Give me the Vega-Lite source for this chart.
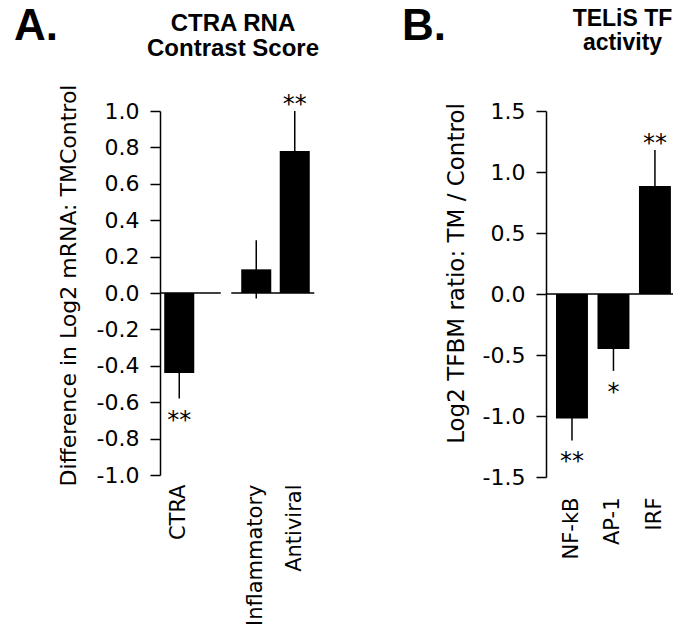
{
  "$schema": "https://vega.github.io/schema/vega-lite/v6.json",
  "padding": {"left": 14, "top": 5, "right": 0, "bottom": 0},
  "config": {
    "view": {"stroke": null},
    "font": "DejaVu Sans",
    "axis": {"grid": false, "labelColor": "black", "titleColor": "black", "domainColor": "black", "tickColor": "black", "domainWidth": 1.5, "tickWidth": 1.5, "labelFont": "DejaVu Sans", "titleFont": "DejaVu Sans", "titleFontWeight": "normal", "labelOverlap": false, "labelBound": false, "labelFlush": false}
  },
  "spacing": 82,
  "hconcat": [
    {
      "title": {"text": "A.", "anchor": "start", "font": "Liberation Sans", "fontSize": 44, "fontWeight": "bold", "color": "black", "dx": -43, "dy": 37, "offset": 0},
      "vconcat": [
        {
          "width": 154,
          "height": 364,
          "title": {"text": ["CTRA RNA", "Contrast Score"], "font": "Liberation Sans", "fontSize": 24, "fontWeight": "bold", "lineHeight": 25, "anchor": "middle", "dx": -4, "offset": 23, "color": "black"},
          "data": {"values": [
            {"measure": "CTRA", "value": -0.44, "lo": -0.58, "hi": -0.30, "sig": "**"},
            {"measure": "Inflammatory", "value": 0.13, "lo": -0.03, "hi": 0.29, "sig": ""},
            {"measure": "Antiviral", "value": 0.78, "lo": 0.56, "hi": 1.0, "sig": "**"}
          ]},
          "layer": [
            {
              "mark": {"type": "bar", "color": "black"},
              "encoding": {
                "x": {"field": "measure", "type": "nominal", "sort": null,
                  "scale": {"domain": ["CTRA", " ", "Inflammatory", "Antiviral"], "paddingInner": 0.22, "paddingOuter": 0.11},
                  "axis": {"title": null, "labelAngle": 270, "labelAlign": "right", "labelBaseline": "middle", "ticks": false, "domain": false, "labelPadding": 9, "labelFontSize": 21}},
                "y": {"field": "value", "type": "quantitative",
                  "scale": {"domain": [-1, 1], "nice": false, "zero": false},
                  "axis": {"values": [-1, -0.8, -0.6, -0.4, -0.2, 0, 0.2, 0.4, 0.6, 0.8, 1],
                    "tickCount": 20,
                    "labelOverlap": false,
                    "labelExpr": "replace(format(datum.value, '.1f'), '\u2212', '-')",
                    "title": "Difference in Log2 mRNA: TMControl", "titleY": 174, "titleFontSize": 22, "titlePadding": 16,
                    "labelFontSize": 22, "tickSize": 10, "labelPadding": 11}}
              }
            },
            {
              "mark": {"type": "rule", "color": "black", "strokeWidth": 1.5},
              "encoding": {
                "x": {"field": "measure", "type": "nominal"},
                "y": {"field": "lo", "type": "quantitative"},
                "y2": {"field": "hi"}
              }
            },
            {
              "data": {"values": [{}]},
              "mark": {"type": "rule", "color": "black", "strokeWidth": 1.5},
              "encoding": {
                "x": {"datum": "CTRA", "bandPosition": -0.14},
                "x2": {"datum": " ", "bandPosition": 0.6},
                "y": {"datum": 0}
              }
            },
            {
              "data": {"values": [{}]},
              "mark": {"type": "rule", "color": "black", "strokeWidth": 1.5},
              "encoding": {
                "x": {"datum": " ", "bandPosition": 0.95},
                "x2": {"datum": "Antiviral", "bandPosition": 1.15},
                "y": {"datum": 0}
              }
            },
            {
              "transform": [{"filter": "datum.value > 0 && datum.sig != ''"}],
              "mark": {"type": "text", "baseline": "middle", "dy": -6, "fontSize": 24, "font": "DejaVu Sans", "color": "black"},
              "encoding": {
                "x": {"field": "measure", "type": "nominal"},
                "y": {"field": "hi", "type": "quantitative"},
                "text": {"field": "sig"}
              }
            },
            {
              "transform": [{"filter": "datum.value < 0 && datum.sig != ''"}],
              "mark": {"type": "text", "baseline": "middle", "dy": 22, "fontSize": 24, "font": "DejaVu Sans", "color": "black"},
              "encoding": {
                "x": {"field": "measure", "type": "nominal"},
                "y": {"field": "lo", "type": "quantitative"},
                "text": {"field": "sig"}
              }
            }
          ]
        }
      ]
    },
    {
      "title": {"text": "B.", "anchor": "start", "font": "Liberation Sans", "fontSize": 44, "fontWeight": "bold", "color": "black", "dx": -43, "dy": 41, "offset": 0},
      "vconcat": [
        {
          "width": 129,
          "height": 366,
          "title": {"text": ["TELiS TF", "activity"], "font": "Liberation Sans", "fontSize": 23, "fontWeight": "bold", "lineHeight": 24, "anchor": "middle", "dx": 12, "offset": 45, "color": "black"},
          "data": {"values": [
            {"factor": "NF-kB", "value": -1.02, "lo": -1.2, "hi": -0.84, "sig": "**"},
            {"factor": "AP-1", "value": -0.45, "lo": -0.63, "hi": -0.27, "sig": "*"},
            {"factor": "IRF", "value": 0.885, "lo": 0.59, "hi": 1.18, "sig": "**"}
          ]},
          "layer": [
            {
              "mark": {"type": "bar", "color": "black"},
              "encoding": {
                "x": {"field": "factor", "type": "nominal", "sort": null,
                  "scale": {"domain": ["NF-kB", "AP-1", "IRF"], "paddingInner": 0.23, "paddingOuter": 0.17, "align": 0.71},
                  "axis": {"title": null, "labelAngle": 270, "labelAlign": "right", "labelBaseline": "middle", "ticks": false, "domain": false, "labelPadding": 20, "labelFontSize": 21}},
                "y": {"field": "value", "type": "quantitative",
                  "scale": {"domain": [-1.5, 1.5], "nice": false, "zero": false},
                  "axis": {"values": [-1.5, -1, -0.5, 0, 0.5, 1, 1.5],
                    "tickCount": 20,
                    "labelOverlap": false,
                    "labelExpr": "replace(format(datum.value, '.1f'), '\u2212', '-')",
                    "title": "Log2 TFBM ratio: TM / Control", "titleY": 162, "titleFontSize": 23, "titlePadding": 14,
                    "labelFontSize": 22, "tickSize": 10, "labelPadding": 11}}
              }
            },
            {
              "mark": {"type": "rule", "color": "black", "strokeWidth": 1.5},
              "encoding": {
                "x": {"field": "factor", "type": "nominal"},
                "y": {"field": "lo", "type": "quantitative"},
                "y2": {"field": "hi"}
              }
            },
            {
              "data": {"values": [{}]},
              "mark": {"type": "rule", "color": "black", "strokeWidth": 1.5},
              "encoding": {"y": {"datum": 0}}
            },
            {
              "transform": [{"filter": "datum.value > 0 && datum.sig != ''"}],
              "mark": {"type": "text", "baseline": "middle", "dy": -6, "fontSize": 24, "font": "DejaVu Sans", "color": "black"},
              "encoding": {
                "x": {"field": "factor", "type": "nominal"},
                "y": {"field": "hi", "type": "quantitative"},
                "text": {"field": "sig"}
              }
            },
            {
              "transform": [{"filter": "datum.value < 0 && datum.sig != ''"}],
              "mark": {"type": "text", "baseline": "middle", "dy": 22, "fontSize": 24, "font": "DejaVu Sans", "color": "black"},
              "encoding": {
                "x": {"field": "factor", "type": "nominal"},
                "y": {"field": "lo", "type": "quantitative"},
                "text": {"field": "sig"}
              }
            }
          ]
        }
      ]
    }
  ]
}
